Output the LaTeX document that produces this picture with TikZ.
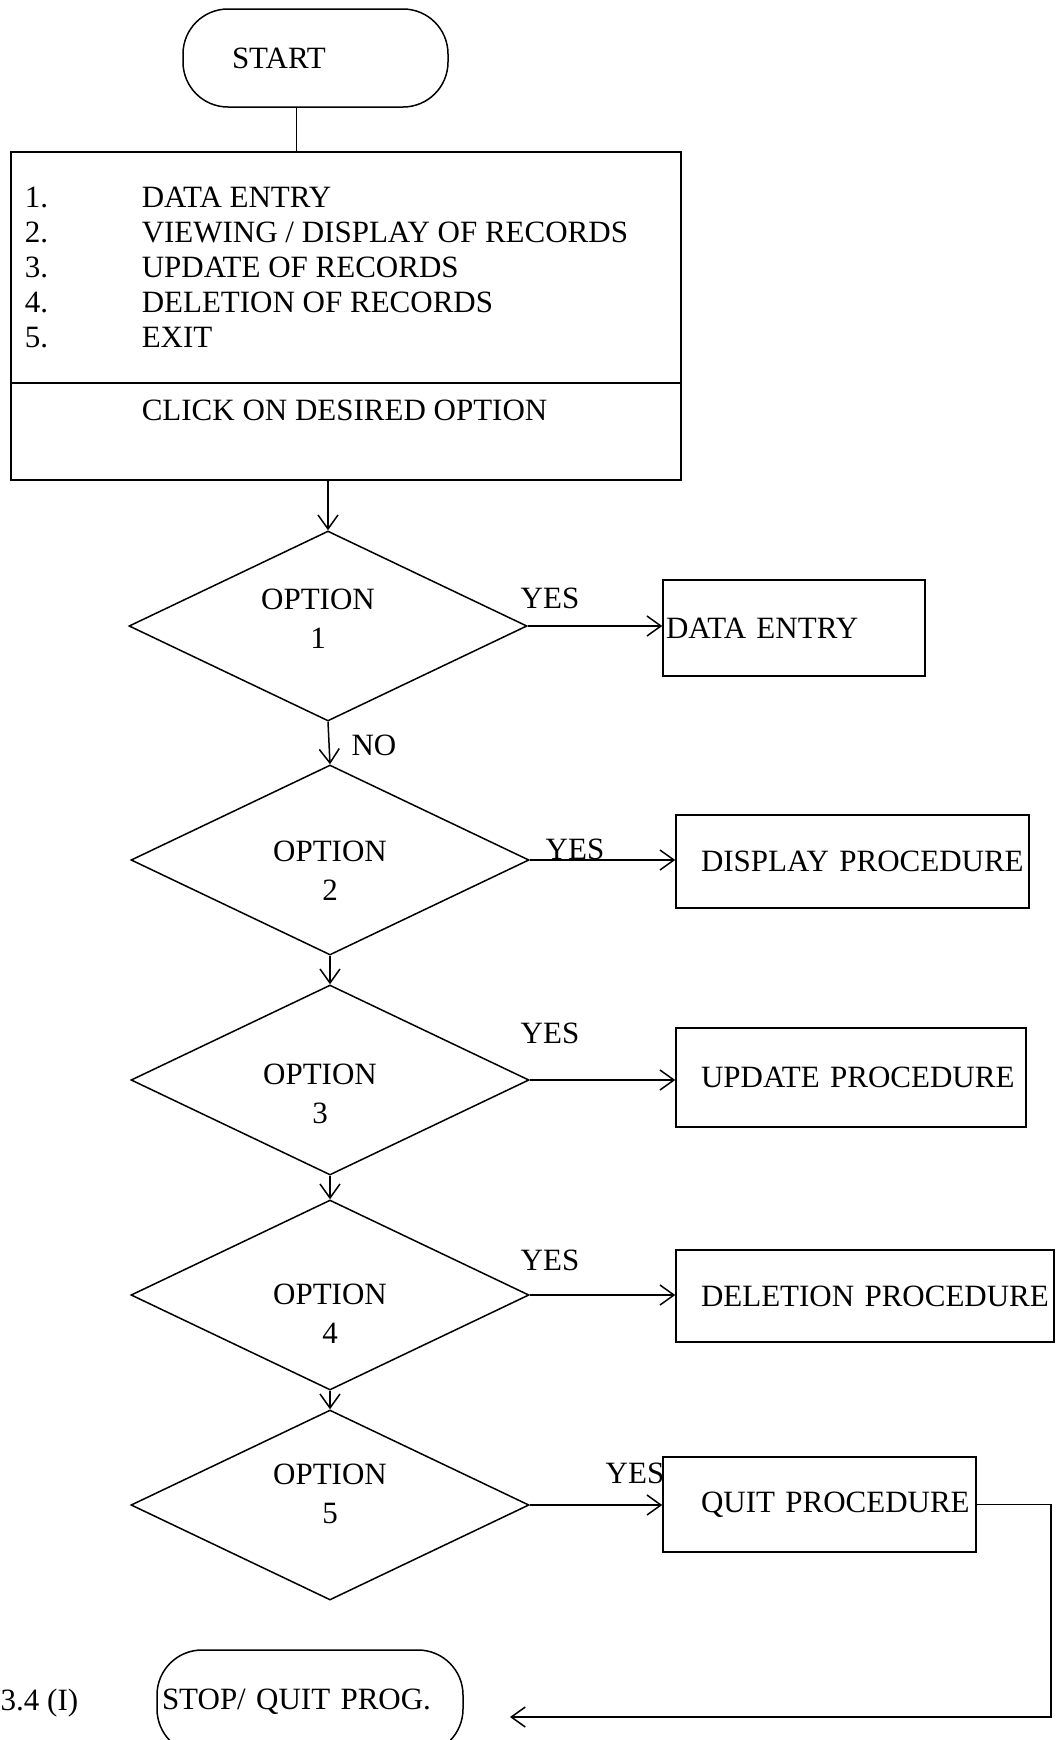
\documentclass[tikz,border=0pt]{standalone}
\usepackage{fontspec}
\setmainfont{Liberation Serif}
\usetikzlibrary{shapes.geometric,arrows.meta}
\begin{document}
\begin{tikzpicture}[x=1pt,y=-1pt,
  font=\fontsize{31pt}{39pt}\selectfont,
  line width=1.5pt,
  term/.style={draw, rectangle, rounded corners=45pt, inner sep=0pt},
  menubox/.style={draw, rectangle, inner sep=0pt},
  dec/.style={draw, diamond, minimum width=398pt, minimum height=190pt, inner sep=0pt},
  opt/.style={align=center, inner sep=0pt},
  proc/.style={draw, rectangle, inner ysep=0pt, align=left},
  arr/.style={-{Straight Barb[length=14pt,width=20pt,line width=1.5pt]}},
  txt/.style={inner sep=0pt}
]
\useasboundingbox (0,0) rectangle (1056,1740);
\clip (0,0) rectangle (1056,1740);

% START terminal
\node[term, minimum width=265pt, minimum height=98pt, text width=167pt, inner xsep=49pt, align=left] (start) at (315.5,58) {START};

% menu box
\node[menubox, minimum width=670pt, minimum height=328pt] (menu) at (346,316) {};
\draw (menu.west |- 0,383) -- (menu.east |- 0,383);
\node[txt, anchor=base west] (n1) at (24,207) {1.};
\node[txt, anchor=base west] (t1) at (141,207) {DATA ENTRY};
\node[txt, anchor=base west] (n2) at (24,242) {2.};
\node[txt, anchor=base west] (t2) at (141,242) {VIEWING / DISPLAY OF RECORDS};
\node[txt, anchor=base west] (n3) at (24,277) {3.};
\node[txt, anchor=base west] (t3) at (141,277) {UPDATE OF RECORDS};
\node[txt, anchor=base west] (n4) at (24,312) {4.};
\node[txt, anchor=base west] (t4) at (141,312) {DELETION OF RECORDS};
\node[txt, anchor=base west] (n5) at (24,347) {5.};
\node[txt, anchor=base west] (t5) at (141,347) {EXIT};
\node[txt, anchor=base west] (click) at (141,420) {CLICK ON DESIRED OPTION};

% decisions
\node[dec, label={[opt, xshift=-10pt, yshift=7pt]center:{OPTION\\1}}] (d1) at (328,626) {};
\node[dec, label={[opt, yshift=-11pt]center:{OPTION\\2}}] (d2) at (330,860) {};
\node[dec, label={[opt, xshift=-10pt, yshift=-14pt]center:{OPTION\\3}}] (d3) at (330,1080) {};
\node[dec, label={[opt, yshift=-19pt]center:{OPTION\\4}}] (d4) at (330,1295) {};
\node[dec, label={[opt, yshift=11pt]center:{OPTION\\5}}] (d5) at (330,1505) {};

% process boxes
\node[proc, minimum height=96pt, inner xsep=3pt, text width=256pt] (b1) at (794,628) {\mbox{DATA ENTRY}};
\node[proc, minimum height=93pt, inner xsep=25pt, text width=303pt] (b2) at (852.5,861.5) {\mbox{DISPLAY PROCEDURE}};
\node[proc, minimum height=99pt, inner xsep=25pt, text width=300pt] (b3) at (851,1077.5) {\mbox{UPDATE PROCEDURE}};
\node[proc, minimum height=92pt, inner xsep=25pt, text width=328pt] (b4) at (865,1296) {\mbox{DELETION PROCEDURE}};
\node[proc, minimum height=95pt, inner xsep=38pt, text width=237pt] (b5) at (819.5,1504.5) {\mbox{QUIT PROCEDURE}};

% STOP terminal
\node[term, minimum width=306pt, minimum height=104pt, text width=296pt, inner xsep=5pt, align=left] (stop) at (310,1702) {\mbox{STOP/ QUIT PROG.}};
\node[txt, anchor=west] (fig) at (0,1703) {3.4 (I)};

% YES / NO labels
\node[txt] (y1) at (550,598) {YES};
\node[txt] (y2) at (575,849) {YES};
\node[txt] (y3) at (550,1033) {YES};
\node[txt] (y4) at (550,1260) {YES};
\node[txt] (y5) at (635,1473) {YES};
\node[txt] (no) at (374,745) {NO};

% connectors
\draw ([xshift=-19pt]start.south) -- ([xshift=-19pt]start.south |- menu.north);
\draw[arr] (menu.south -| d1.north) -- (d1.north);
\draw[arr] (d1.south) -- (d2.north);
\draw[arr] (d2.south) -- (d3.north);
\draw[arr] (d3.south) -- (d4.north);
\draw[arr] (d4.south) -- (d5.north);
\draw[arr] (d1.east) -- (d1.east -| b1.west);
\draw[arr] (d2.east) -- (d2.east -| b2.west);
\draw[arr] (d3.east) -- (d3.east -| b3.west);
\draw[arr] (d4.east) -- (d4.east -| b4.west);
\draw[arr] (d5.east) -- (d5.east -| b5.west);
\coordinate (stopin) at (510,1717);
\draw[arr] (b5.east) -- ++(74,0) |- (stopin);
\end{tikzpicture}
\end{document}
